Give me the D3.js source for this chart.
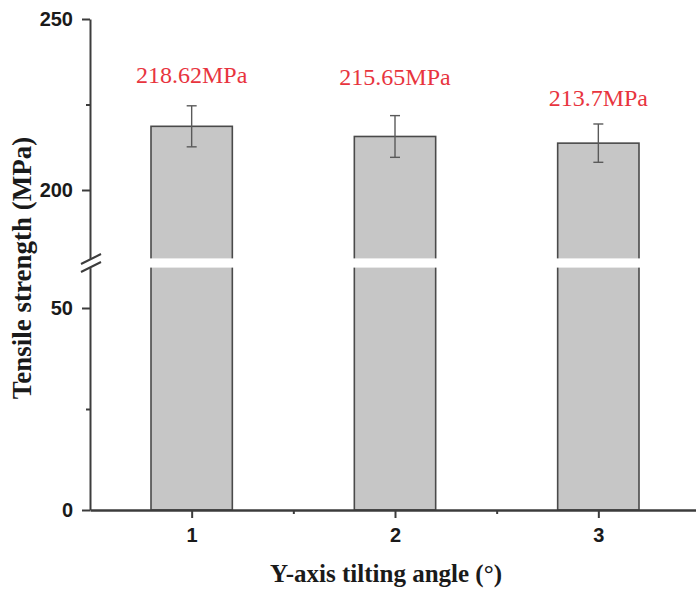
<!DOCTYPE html>
<html>
<head>
<meta charset="utf-8">
<script src="https://cdn.jsdelivr.net/npm/d3@7"></script>
<style>
    body { margin: 0; background: #fff; }
    #chart { width: 696px; height: 593px; }
</style>
</head>
<body>
<div id="chart"></div>
<script>
// data
let angles = [1, 2, 3];
let strength = [218.62, 215.65, 213.7];
let errors = [6.0, 6.1, 5.6];
let valueLabels = ["218.62MPa", "215.65MPa", "213.7MPa"];
let labelAt = [231.4, 230.6, 224.7];   // label baseline, in MPa
let upperTicks = [200, 250];
let upperMinor = [225];
let lowerTicks = [0, 50];
let lowerMinor = [25];
let xMinor = [1.5, 2.5];

let width = 696, height = 593;

let svg = d3.select("#chart").append("svg")
    .attr("width", width)
    .attr("height", height);

// broken y axis: two scales
let yUp = d3.scaleLinear().domain([180, 250]).range([258.4, 19]);
let yLow = d3.scaleLinear().domain([0, 60]).range([510, 267.6]);
let y = v => v <= 60 ? yLow(v) : yUp(v);

let x = d3.scaleLinear().domain([0.5, 3.5]).range([90, 700]);
let barW = x(1.4) - x(1);

let axisColor = "#3c3c3c";

// bars
let bars = svg.append("g");
bars.selectAll("rect.bar")
    .data(strength)
    .enter()
    .append("rect")
    .attr("class", "bar")
    .attr("x", (d, i) => x(angles[i]) - barW / 2)
    .attr("y", d => y(d))
    .attr("width", barW)
    .attr("height", d => y(0) - y(d))
    .style("fill", "#c6c6c6")
    .style("stroke", "#4a4a4a")
    .style("stroke-width", 1.6);

// white gap through the bars at the break
bars.selectAll("rect.gap")
    .data(strength)
    .enter()
    .append("rect")
    .attr("x", (d, i) => x(angles[i]) - barW / 2 - 2)
    .attr("y", yUp(180))
    .attr("width", barW + 4)
    .attr("height", yLow(60) - yUp(180))
    .style("fill", "#fff");

// error bars
let err = svg.append("g")
    .style("stroke", "#5a5a5a")
    .style("stroke-width", 1.4);
strength.forEach((v, i) => {
    let cx = x(angles[i]);
    err.append("line")
        .attr("x1", cx).attr("x2", cx)
        .attr("y1", y(v - errors[i])).attr("y2", y(v + errors[i]));
    [v - errors[i], v + errors[i]].forEach(e => {
        err.append("line")
            .attr("x1", cx - 5).attr("x2", cx + 5)
            .attr("y1", y(e)).attr("y2", y(e));
    });
});

// value labels
svg.selectAll("text.val")
    .data(valueLabels)
    .enter()
    .append("text")
    .attr("class", "val")
    .attr("x", (d, i) => x(angles[i]))
    .attr("y", (d, i) => y(labelAt[i]))
    .attr("text-anchor", "middle")
    .style("font-family", "'Liberation Serif', 'Times New Roman', serif")
    .style("font-size", "24px")
    .style("fill", "#e8343e")
    .text(d => d);

function styleAxis(g) {
    g.selectAll("path, line").style("stroke", axisColor).style("stroke-width", 2);
    g.selectAll("text")
        .style("font-family", "'Liberation Sans', Arial, sans-serif")
        .style("font-weight", "bold")
        .style("font-size", "20px")
        .style("fill", "#1a1a1a");
}

// y axis pieces
svg.append("g")
    .attr("transform", "translate(90,0)")
    .call(d3.axisLeft(yUp).tickValues(upperTicks).tickSize(8).tickSizeOuter(0).tickPadding(9))
    .call(styleAxis);
svg.append("g")
    .attr("transform", "translate(90,0)")
    .call(d3.axisLeft(yUp).tickValues(upperMinor).tickSize(4).tickFormat(""))
    .call(g => g.select(".domain").remove())
    .call(styleAxis);
svg.append("g")
    .attr("transform", "translate(90,0)")
    .call(d3.axisLeft(yLow).tickValues(lowerTicks).tickSize(8).tickSizeOuter(0).tickPadding(9))
    .call(styleAxis);
svg.append("g")
    .attr("transform", "translate(90,0)")
    .call(d3.axisLeft(yLow).tickValues(lowerMinor).tickSize(4).tickFormat(""))
    .call(g => g.select(".domain").remove())
    .call(styleAxis);

// break marks
let bc = (yUp(180) + yLow(60)) / 2;
[[-10, 1, 10, -9], [-10, 9, 10, -1]].forEach(m => {
    svg.append("line")
        .attr("x1", 91 + m[0]).attr("y1", bc + m[1])
        .attr("x2", 91 + m[2]).attr("y2", bc + m[3])
        .style("stroke", axisColor)
        .style("stroke-width", 2);
});

// x axis
svg.append("g")
    .attr("transform", "translate(0," + yLow(0) + ")")
    .call(d3.axisBottom(x).tickValues(angles).tickSize(8).tickSizeOuter(0).tickPadding(10).tickFormat(d3.format("d")))
    .call(styleAxis)
    .call(g => g.select(".domain").style("stroke-width", 2.5));
svg.append("g")
    .attr("transform", "translate(0," + yLow(0) + ")")
    .call(d3.axisBottom(x).tickValues(xMinor).tickSize(4).tickFormat(""))
    .call(g => g.select(".domain").remove())
    .call(styleAxis);

// axis titles
svg.append("text")
    .attr("x", 386)
    .attr("y", 582)
    .attr("text-anchor", "middle")
    .style("font-family", "'Liberation Serif', 'Times New Roman', serif")
    .style("font-weight", "bold")
    .style("font-size", "25px")
    .style("fill", "#1a1a1a")
    .text("Y-axis tilting angle (°)");

svg.append("text")
    .attr("transform", "translate(31,268) rotate(-90)")
    .attr("text-anchor", "middle")
    .style("font-family", "'Liberation Serif', 'Times New Roman', serif")
    .style("font-weight", "bold")
    .style("font-size", "27px")
    .style("fill", "#1a1a1a")
    .text("Tensile strength (MPa)");
</script>
</body>
</html>
